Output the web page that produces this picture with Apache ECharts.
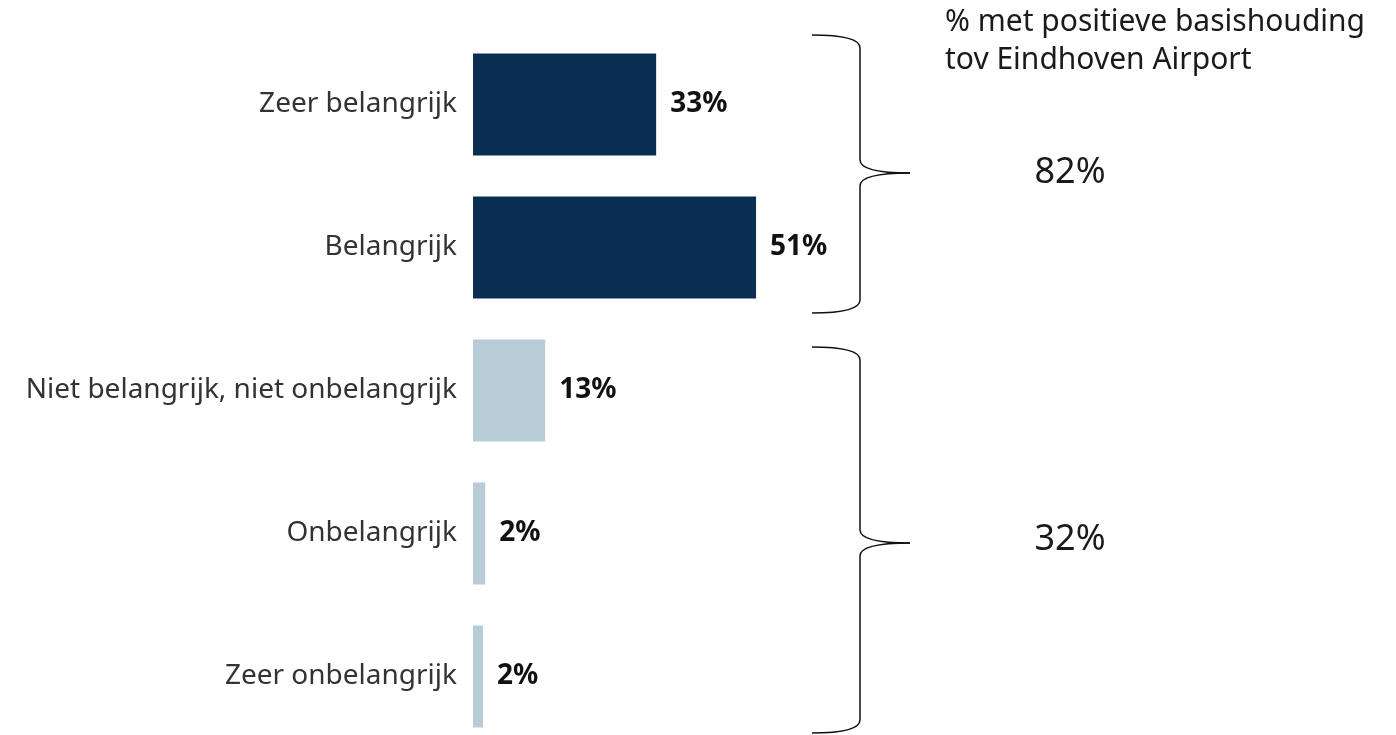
<!DOCTYPE html>
<html>
<head>
<meta charset="utf-8">
<script src="https://cdn.jsdelivr.net/npm/echarts@6/dist/echarts.min.js"></script>
<style>
  html, body { margin:0; padding:0; background:#fff; overflow:hidden; }
  /* iets hoger dan het venster: de onderste balk loopt in het origineel door tot onder de rand */
  #main { width:1396px; height:760px; }
</style>
</head>
<body>
<div id="main"></div>
<script>
// categorieen en waarden (in %)
var categories = ['Zeer belangrijk', 'Belangrijk', 'Niet belangrijk, niet onbelangrijk', 'Onbelangrijk', 'Zeer onbelangrijk'];
var values = [33, 51, 13, 2.2, 1.8];
var valueLabels = ['33%', '51%', '13%', '2%', '2%'];
var groupTotals = ['82%', '32%'];
var groupTitle = ['% met positieve basishouding', 'tov Eindhoven Airport'];

var dark = '#0a2e52', light = '#b8ccd8';
var font = 'Noto Sans';

// accolade "}" opgebouwd uit lijnen en bochten
function brace(x0, xv, xt, yTop, yMid, yBot) {
    var st = { stroke: '#111', lineWidth: 1.5, fill: null };
    var r = 13;
    function curve(x1, y1, cx, cy, x2, y2) {
        return { type: 'bezierCurve', shape: { x1: x1, y1: y1, cpx1: cx, cpy1: cy, x2: x2, y2: y2 }, style: st };
    }
    function line(x1, y1, x2, y2) {
        return { type: 'line', shape: { x1: x1, y1: y1, x2: x2, y2: y2 }, style: st };
    }
    return [
        curve(x0, yTop, xv, yTop, xv, yTop + r),
        line(xv, yTop + r, xv, yMid - r),
        curve(xv, yMid - r, xv, yMid, xt, yMid),
        curve(xt, yMid, xv, yMid, xv, yMid + r),
        line(xv, yMid + r, xv, yBot - r),
        curve(xv, yBot - r, xv, yBot, x0, yBot)
    ];
}

var chart = echarts.init(document.getElementById('main'));
chart.setOption({
    animation: false,
    textStyle: { fontFamily: font },
    grid: {
        left: 473,
        top: 33,
        width: 555,
        height: 715
    },
    xAxis: {
        type: 'value',
        min: 0,
        max: 100,
        show: false
    },
    yAxis: {
        type: 'category',
        inverse: true,
        data: categories,
        axisLine: { show: false },
        axisTick: { show: false },
        splitLine: { show: false },
        axisLabel: {
            margin: 16,
            fontSize: 28,
            color: '#333',
            fontFamily: font
        }
    },
    series: [{
        type: 'bar',
        barWidth: 102,
        data: values.map(function (v, i) {
            return { value: v, itemStyle: { color: i < 2 ? dark : light } };
        }),
        label: {
            show: true,
            position: 'right',
            distance: 14,
            fontSize: 28,
            fontWeight: 'bold',
            color: '#111',
            fontFamily: font,
            formatter: function (p) { return valueLabels[p.dataIndex]; }
        }
    }],
    graphic: brace(812, 860, 910, 35, 173, 313).concat(brace(812, 860, 910, 347, 543, 733)).concat([
        {
            type: 'text', left: 945, top: 3,
            style: { text: groupTitle.join('\n'), fontSize: 30, lineHeight: 38, fill: '#1a1a1a', fontFamily: font }
        },
        {
            type: 'text', x: 1070, y: 173,
            style: { text: groupTotals[0], fontSize: 36, fill: '#1a1a1a', fontFamily: font, align: 'center', verticalAlign: 'middle' }
        },
        {
            type: 'text', x: 1070, y: 540,
            style: { text: groupTotals[1], fontSize: 36, fill: '#1a1a1a', fontFamily: font, align: 'center', verticalAlign: 'middle' }
        }
    ])
});
</script>
</body>
</html>
